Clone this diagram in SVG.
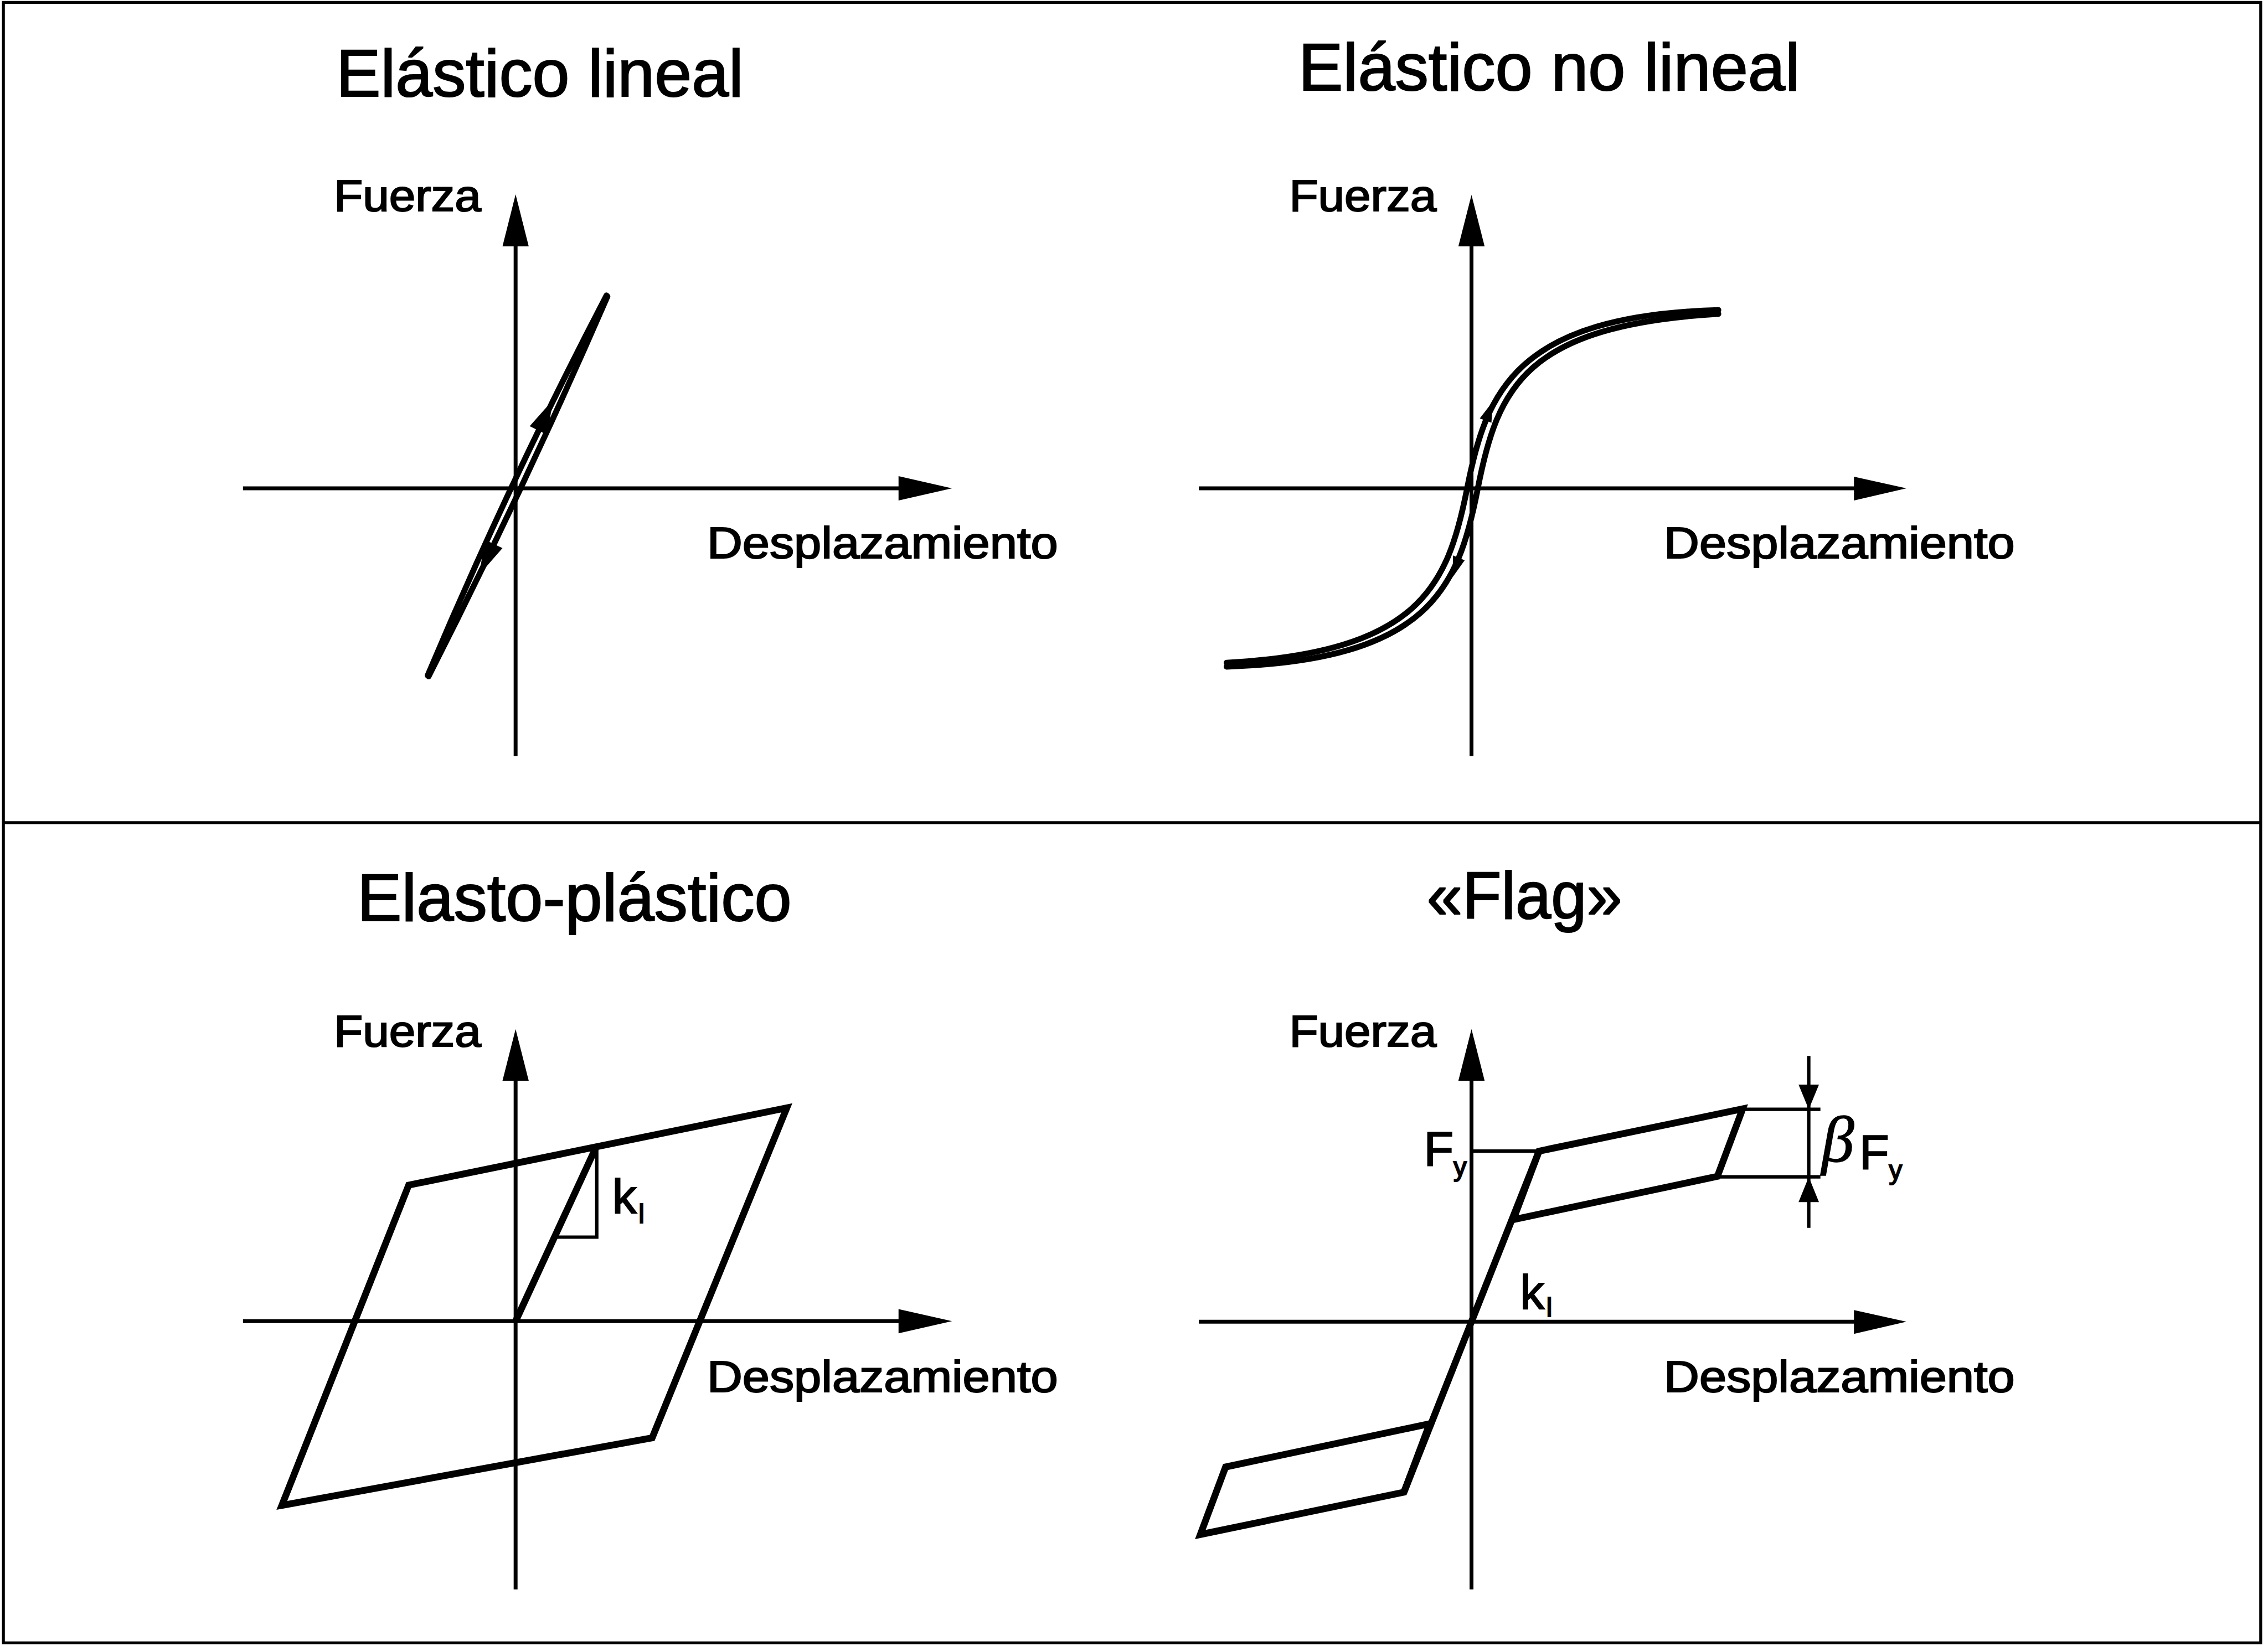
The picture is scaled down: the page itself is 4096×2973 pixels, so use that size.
<svg xmlns="http://www.w3.org/2000/svg" width="4096" height="2973" viewBox="0 0 4096 2973">
<style>
.ln{stroke:#000;fill:none;stroke-linecap:butt;stroke-linejoin:miter}
.frame{stroke-width:6}
.axis{stroke-width:8}
.thick{stroke-width:14}
.curve{stroke-width:12;stroke-linecap:round}
.thin{stroke-width:7}
.head{fill:#000;stroke:none}
text{font-family:"Liberation Sans",Arial,sans-serif;fill:#000;stroke:#000;stroke-width:2.5}
.title{font-size:137px}
.lab{font-size:90px}
.sym{font-size:100px}
.sub{font-size:54px}
.beta{font-family:"Liberation Serif","Times New Roman",serif;font-style:italic;font-size:135px;stroke-width:1.5}
</style>
<rect width="4096" height="2973" fill="#fff"/>
<g transform="scale(0.87765)">
<g id="frame">
<rect class="ln frame" x="7" y="5" width="4645" height="3376"/>
<line class="ln frame" x1="7" y1="1693" x2="4652" y2="1693"/>
</g>

<g id="panel-elastico-lineal">
<text class="title" x="692" y="198" textLength="838" lengthAdjust="spacingAndGlyphs">Elástico lineal</text>
<text class="lab" x="687" y="434" textLength="303" lengthAdjust="spacingAndGlyphs">Fuerza</text>
<text class="lab" x="1455" y="1149" textLength="722" lengthAdjust="spacingAndGlyphs">Desplazamiento</text>
<g id="axes-1">
<line class="ln axis" x1="1061" y1="500" x2="1061" y2="1556"/>
<polygon class="head" points="1061,400 1088,507 1034,507"/>
<line class="ln axis" x1="500" y1="1005" x2="1852" y2="1005"/>
<polygon class="head" points="1959,1005 1849,980 1849,1030"/>
</g>
<g id="loop-1">
<path class="ln curve" d="M 880 1390 Q 1048 992 1248 608"/>
<path class="ln curve" d="M 882 1392 Q 1078 1006 1250 610"/>
<polygon class="head" points="1138,823 1090,877 1126,895"/>
<polygon class="head" points="986,1183 998,1111 1034,1128"/>
</g>
</g>

<g id="panel-elastico-no-lineal">
<text class="title" x="2672" y="186" textLength="1032" lengthAdjust="spacingAndGlyphs">Elástico no lineal</text>
<text class="lab" x="2653" y="434" textLength="303" lengthAdjust="spacingAndGlyphs">Fuerza</text>
<text class="lab" x="3424" y="1149" textLength="722" lengthAdjust="spacingAndGlyphs">Desplazamiento</text>
<g id="axes-2">
<line class="ln axis" x1="3028" y1="500" x2="3028" y2="1556"/>
<polygon class="head" points="3028,401 3055,507 3001,507"/>
<line class="ln axis" x1="2467" y1="1005" x2="3820" y2="1005"/>
<polygon class="head" points="3923,1005 3815,981 3815,1030"/>
</g>
<g id="loop-2">
<path class="ln curve" d="M 2524 1364 C 2920 1342, 2979 1208, 3019 1005 C 3058 805, 3120 650, 3536 638"/>
<path class="ln curve" d="M 2524 1372 C 2940 1358, 3001 1212, 3041 1005 C 3082 795, 3140 670, 3536 646"/>
<polygon class="head" points="3072,826 3069,870 3045,861"/>
<polygon class="head" points="2989,1188 3014,1153 2990,1143"/>
</g>
</g>

<g id="panel-elasto-plastico">
<text class="title" x="735" y="1895" textLength="894" lengthAdjust="spacingAndGlyphs">Elasto-plástico</text>
<text class="lab" x="687" y="2153" textLength="303" lengthAdjust="spacingAndGlyphs">Fuerza</text>
<text class="lab" x="1455" y="2865" textLength="722" lengthAdjust="spacingAndGlyphs">Desplazamiento</text>
<g id="axes-3">
<line class="ln axis" x1="1061" y1="2215" x2="1061" y2="3271"/>
<polygon class="head" points="1061,2118 1088,2224 1034,2224"/>
<line class="ln axis" x1="500" y1="2719" x2="1852" y2="2719"/>
<polygon class="head" points="1959,2719 1849,2694 1849,2744"/>
</g>
<g id="loop-3">
<polygon class="ln thick" points="580,3098 841,2439 1619,2280 1342,2959"/>
<line class="ln thick" x1="1061" y1="2719" x2="1226" y2="2362"/>
<polyline class="ln thin" points="1228,2362 1228,2546 1140,2546"/>
</g>
<text class="sym" x="1260" y="2497">k<tspan class="sub" dy="20" dx="4">l</tspan></text>
</g>

<g id="panel-flag">
<text class="title" x="2936" y="1890" textLength="402" lengthAdjust="spacingAndGlyphs">«Flag»</text>
<text class="lab" x="2653" y="2153" textLength="303" lengthAdjust="spacingAndGlyphs">Fuerza</text>
<text class="lab" x="3424" y="2865" textLength="722" lengthAdjust="spacingAndGlyphs">Desplazamiento</text>
<g id="axes-4">
<line class="ln axis" x1="3028" y1="2215" x2="3028" y2="3271"/>
<polygon class="head" points="3028,2118 3055,2224 3001,2224"/>
<line class="ln axis" x1="2467" y1="2720" x2="3820" y2="2720"/>
<polygon class="head" points="3923,2720 3815,2696 3815,2745"/>
</g>
<g id="loop-4">
<line class="ln thin" x1="3028" y1="2369" x2="3167" y2="2369"/>
<polygon class="ln thick" points="3167,2369 3586,2282 3534,2421 3114,2510"/>
<line class="ln thick" x1="2889" y1="3071" x2="3167" y2="2369"/>
<polygon class="ln thick" points="2942,2930 2522,3019 2470,3158 2889,3071"/>
</g>
<g id="dimension-beta">
<line class="ln thin" x1="3586" y1="2283" x2="3746" y2="2283"/>
<line class="ln thin" x1="3534" y1="2422" x2="3746" y2="2422"/>
<line class="ln thin" x1="3722" y1="2173" x2="3722" y2="2527"/>
<polygon class="head" points="3722,2283 3701,2232 3743,2232"/>
<polygon class="head" points="3722,2422 3701,2474 3743,2474"/>
</g>
<text class="sym" x="2930" y="2398">F<tspan class="sub" dy="22">y</tspan></text>
<text class="sym" x="3128" y="2693">k<tspan class="sub" dy="17" dx="4">l</tspan></text>
<text class="beta" x="3748" y="2390">β</text>
<text class="sym" x="3826" y="2405">F<tspan class="sub" dy="22">y</tspan></text>
</g>
</g>
</svg>
